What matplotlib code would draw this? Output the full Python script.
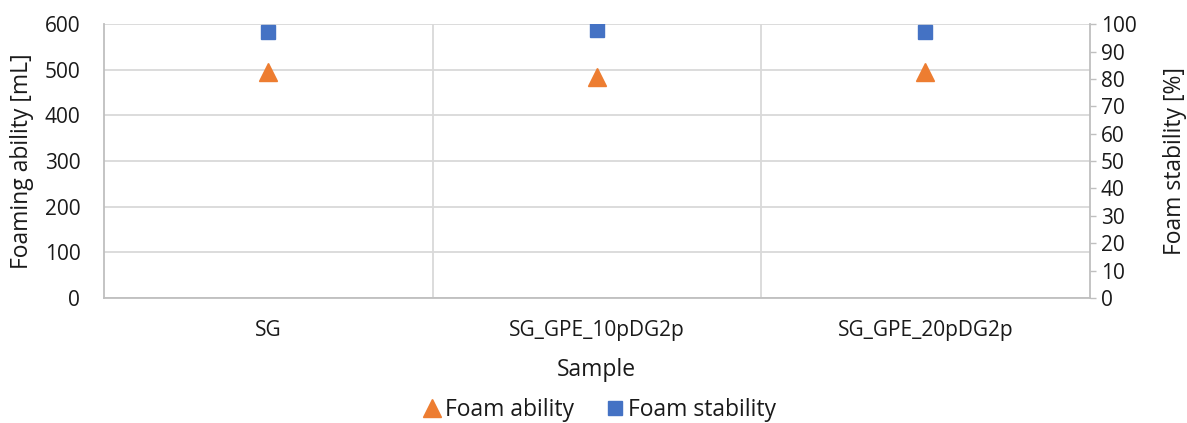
import numpy as np
import matplotlib.pyplot as plt

plt.rcParams['font.family'] = ['Open Sans', 'DejaVu Sans']

samples = ['SG', 'SG_GPE_10pDG2p', 'SG_GPE_20pDG2p']
foam_ability = [494, 484, 494]      # mL
foam_stability = [97, 98, 97]       # %

grid_col = '#d9d9d9'
axis_col = '#bfbfbf'
text_col = '#1a1a1a'

fig = plt.figure(figsize=(11.87, 4.23), dpi=100)
ax = fig.add_axes([0.0876, 0.2955, 0.8304, 0.6475])
ax2 = ax.twinx()

x = np.arange(len(samples))
ax.plot(x, foam_ability, linestyle='none', marker='^', markersize=12.5,
        color='#ed7d31', label='Foam ability')
ax2.plot(x, foam_stability, linestyle='none', marker='s', markersize=10.4,
         color='#4472c4', label='Foam stability')

ax.set_xlim(-0.5, len(samples) - 0.5)
ax.set_ylim(0, 600)
ax.set_yticks(range(0, 601, 100))
ax2.set_ylim(0, 100)
ax2.set_yticks(range(0, 101, 10))

# grid: horizontal from left axis, vertical at category boundaries
ax.set_axisbelow(True)
ax.yaxis.grid(True, color=grid_col, linewidth=1.3)
ax.set_xticks(x)
ax.set_xticks(np.arange(0.5, len(samples) - 0.5, 1), minor=True)
ax.xaxis.grid(True, which='minor', color=grid_col, linewidth=1.3)
ax.set_xticklabels(samples)
ax.tick_params(axis='x', which='both', length=0, labelsize=15, colors=text_col, pad=16)
ax.tick_params(axis='y', length=0, labelsize=15, colors=text_col, pad=17)
ax2.tick_params(axis='y', length=4, width=1, color=axis_col, labelsize=15,
                labelcolor=text_col, pad=4)

for a in (ax, ax2):
    a.spines['top'].set_visible(False)
    for s in ('left', 'right', 'bottom'):
        a.spines[s].set_color(axis_col)
        a.spines[s].set_linewidth(1.3)
ax.spines['right'].set_visible(False)
ax2.spines['left'].set_visible(False)
ax2.spines['bottom'].set_visible(False)

ax.set_ylabel('Foaming ability [mL]', fontsize=16.5, color=text_col)
ax.yaxis.set_label_coords(-0.071, 0.5)
ax2.set_ylabel('Foam stability [%]', fontsize=16.5, color=text_col, rotation=90)
ax2.yaxis.set_label_coords(1.074, 0.5)
ax.set_xlabel('Sample', fontsize=16.5, color=text_col, labelpad=12)

h1, l1 = ax.get_legend_handles_labels()
h2, l2 = ax2.get_legend_handles_labels()
fig.legend(h1 + h2, l1 + l2, loc='center', bbox_to_anchor=(0.504, 0.031),
           ncol=2, frameon=False, fontsize=16.5, handletextpad=0.05,
           columnspacing=1.3, handlelength=1.0, labelcolor=text_col)

fig.savefig('out.png', dpi=100)
